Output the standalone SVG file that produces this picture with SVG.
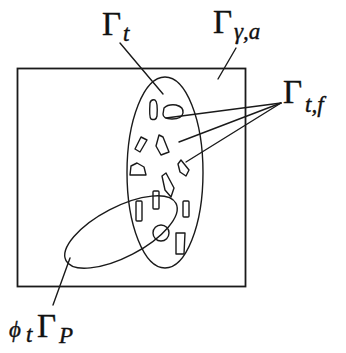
<svg xmlns="http://www.w3.org/2000/svg" width="346" height="353" viewBox="0 0 346 353">
<style>
.ln{fill:none;stroke:#1a1a1a;stroke-width:1.4;stroke-linecap:round;stroke-linejoin:round}
.rc{fill:none;stroke:#1a1a1a;stroke-width:1.8}
.g{font-family:"Liberation Serif","DejaVu Serif",serif;font-size:33px;fill:#111;stroke:#111;stroke-width:0.4}
.s{font-family:"Liberation Serif","DejaVu Serif",serif;font-style:italic;font-size:23px;fill:#111;stroke:#111;stroke-width:0.4}
</style>
<rect width="346" height="353" fill="#fff"/>
<g id="domain">
<rect class="rc" x="17.5" y="68.5" width="228" height="218"/>
</g>
<g id="gamma-t">
<ellipse class="ln" cx="165" cy="172.5" rx="38" ry="95.5"/>
</g>
<g id="phi-gamma-p">
<ellipse class="ln" cx="121" cy="232" rx="62" ry="25" transform="rotate(-27.5 121 232)"/>
</g>
<g id="gamma-tf">
<path class="ln" d="M150,103 Q151,99 155,100 Q158,102 157,116 Q156,121 151,119 Q149,117 150,103 Z"/>
<path class="ln" d="M164,108 Q168,104 176,105 Q184,107 183,113 Q182,119 172,119 Q163,119 163,114 Z"/>
<path class="ln" d="M141,137 L147,140 L140,152 L135,149 Z"/>
<path class="ln" d="M159,135 L163,137 L169,152 L161,155 L156,146 Z"/>
<path class="ln" d="M131,166 L137,163 L144,167 L146,175 L130,175 Z"/>
<path class="ln" d="M178,164 L181,160 L189,170 L186,176 L180,172 Z"/>
<path class="ln" d="M162,176 L166,173 L174,188 L171,197 L165,190 Z"/>
<rect class="ln" x="153" y="191" width="6" height="18" rx="1"/>
<rect class="ln" x="136" y="201" width="6" height="20" rx="1"/>
<rect class="ln" x="183" y="201" width="6" height="16" rx="1"/>
<circle class="ln" cx="161" cy="233" r="8"/>
<path class="ln" d="M176,233 L185,233 L184,254 L176,254 Z"/>
</g>
<g id="connectors">
<line class="ln" x1="120" y1="43" x2="163" y2="94"/>
<line class="ln" x1="236" y1="48" x2="218" y2="79"/>
<line class="ln" x1="281" y1="103" x2="166" y2="118"/>
<line class="ln" x1="281" y1="103" x2="179" y2="142"/>
<line class="ln" x1="281" y1="103" x2="186" y2="162"/>
<line class="ln" x1="53" y1="305" x2="70" y2="258"/>
</g>
<g id="labels">
<text class="g" x="102" y="35">Γ</text><text class="s" x="123" y="41">t</text>
<text class="g" x="213" y="33">Γ</text><text class="s" x="234" y="39">γ,a</text>
<text class="g" x="283" y="103">Γ</text><text class="s" x="305" y="112">t,f</text>
<text class="s" x="9" y="337" font-size="30">ϕ</text><text class="s" x="26" y="342">t</text><text class="g" x="37" y="337">Γ</text><text class="s" x="59" y="343">P</text>
</g>
</svg>
